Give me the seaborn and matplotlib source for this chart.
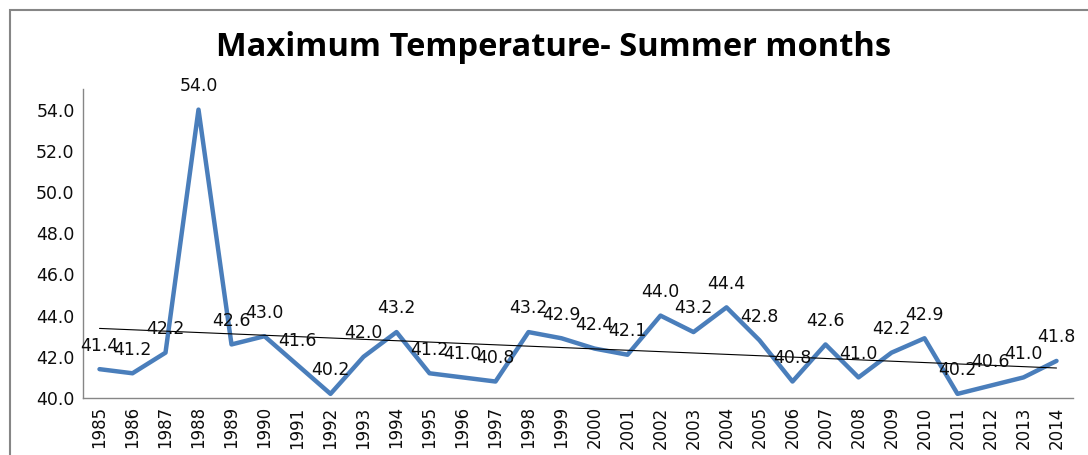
import matplotlib
matplotlib.use("Agg")
import matplotlib.pyplot as plt
import seaborn as sns
import numpy as np
import pandas as pd
from matplotlib.patches import Rectangle
from matplotlib.ticker import FixedLocator, NullFormatter

years = [1985, 1986, 1987, 1988, 1989, 1990, 1991, 1992, 1993, 1994,
         1995, 1996, 1997, 1998, 1999, 2000, 2001, 2002, 2003, 2004,
         2005, 2006, 2007, 2008, 2009, 2010, 2011, 2012, 2013, 2014]
max_temp = [41.4, 41.2, 42.2, 54.0, 42.6, 43.0, 41.6, 40.2, 42.0, 43.2,
            41.2, 41.0, 40.8, 43.2, 42.9, 42.4, 42.1, 44.0, 43.2, 44.4,
            42.8, 40.8, 42.6, 41.0, 42.2, 42.9, 40.2, 40.6, 41.0, 41.8]
y_ticks = [40, 42, 44, 46, 48, 50, 52, 54]
title = "Maximum Temperature- Summer months"

df = pd.DataFrame({"pos": np.arange(len(years)), "year": years, "temp": max_temp})

sns.set_style("white")
plt.rcParams['font.family'] = ['DejaVu Sans']

fig = plt.figure(figsize=(10.88, 4.55), dpi=100)
ax = fig.add_axes([83/1088, 1 - 398/455, (1073-83)/1088, (398-89)/455])

sns.lineplot(data=df, x="pos", y="temp", ax=ax, color="#4a7ebb", linewidth=3.2)
sns.regplot(data=df, x="pos", y="temp", ax=ax, scatter=False, ci=None,
            line_kws={"color": "black", "linewidth": 0.8})

for p, v in zip(df["pos"], df["temp"]):
    ax.annotate(f"{v:.1f}", (p, v), xytext=(0, 17), textcoords="offset points",
                ha="center", va="center", fontsize=12.5, color="#0d0d0d")

ax.set_xlim(-0.5, len(years) - 0.5)
ax.set_ylim(40, 55)
ax.set_yticks(y_ticks)
ax.set_yticklabels([f"{t:.1f}" for t in y_ticks], fontsize=12.5, color="#0d0d0d")
ax.tick_params(axis="y", length=0, pad=6)

ax.xaxis.set_major_locator(FixedLocator(np.arange(-0.5, len(years), 1.0)))
ax.xaxis.set_major_formatter(NullFormatter())
ax.set_xticks(np.arange(len(years)), minor=True)
ax.set_xticklabels([str(y) for y in years], minor=True, rotation=90,
                   fontsize=12, color="#0d0d0d",
                   family=['Liberation Sans Narrow', 'DejaVu Sans'])
ax.tick_params(axis="x", which="major", length=6, color="#868686", direction="out")
ax.tick_params(axis="x", which="minor", length=0, pad=6)

ax.set_xlabel("")
ax.set_ylabel("")
for s in ["top", "right"]:
    ax.spines[s].set_visible(False)
for s in ["left", "bottom"]:
    ax.spines[s].set_color("#868686")
    ax.spines[s].set_linewidth(1.0)

fig.text(554/1088, 1 - 47/455, title, ha="center", va="center",
         fontsize=23.5, fontweight="bold", color="black",
         family=['Open Sans', 'DejaVu Sans'])

fig.patches.append(Rectangle((10/1088, -0.1), 1.2, 1 - 10/455 + 0.1,
                             transform=fig.transFigure, fill=False,
                             edgecolor="#868686", linewidth=1.5))

fig.savefig("out.png", dpi=100)
